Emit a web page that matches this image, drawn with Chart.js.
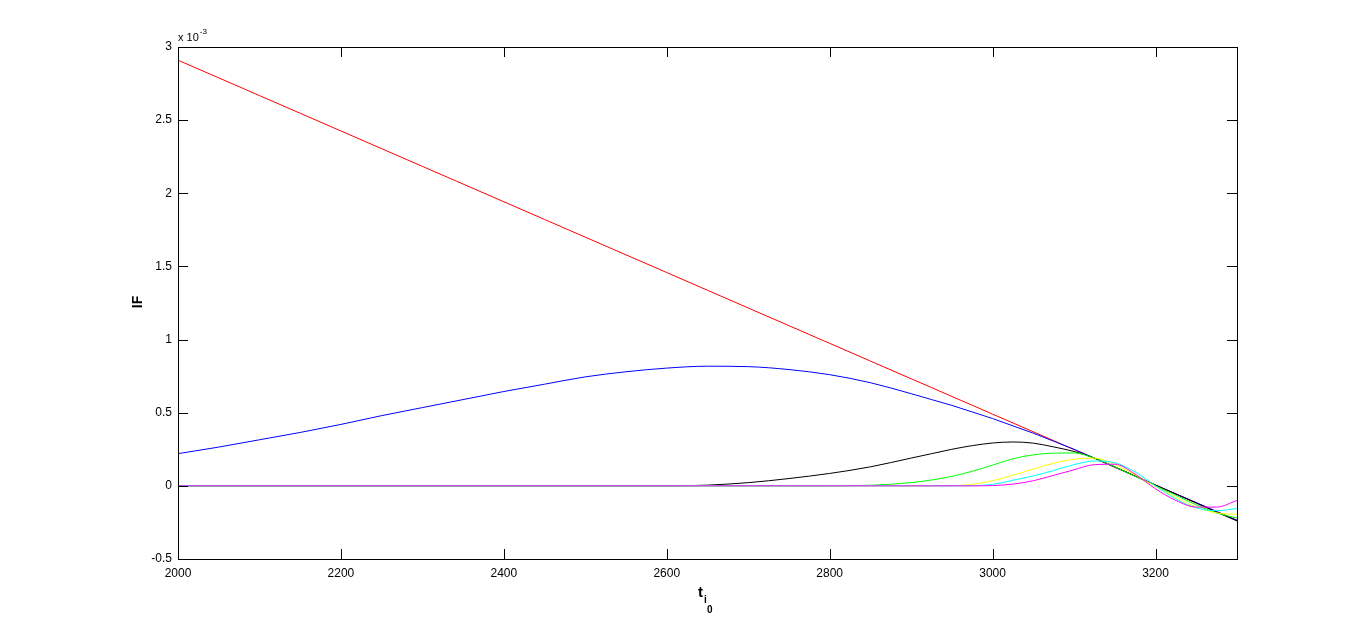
<!DOCTYPE html>
<html>
<head>
<meta charset="utf-8">
<script src="https://cdn.jsdelivr.net/npm/chart.js@4/dist/chart.umd.min.js"></script>
<style>
  html, body { margin: 0; padding: 0; background: #fff; }
  #wrap { width: 1366px; height: 628px; position: relative; }
</style>
</head>
<body>
<div id="wrap"><canvas id="ifChart" width="1366" height="628"></canvas></div>
<script>
// t_i0 sample points (step 50, then 25 near the oscillation)
const tValues = [2000, 2050, 2100, 2150, 2200, 2250, 2300, 2350, 2400, 2450,
    2500, 2550, 2600, 2650, 2700, 2750, 2800, 2850, 2900,
    2925, 2950, 2975, 3000, 3025, 3050, 3075, 3100, 3125, 3150, 3175,
    3200, 3225, 3250, 3275, 3300];

// IF values, in units of 1e-3
const redIF = [2.91, 2.789, 2.668, 2.547, 2.426, 2.305, 2.184, 2.063, 1.942, 1.821,
    1.70, 1.579, 1.458, 1.337, 1.216, 1.095, 0.974, 0.853, 0.732,
    0.672, 0.611, 0.551, 0.49, 0.43, 0.369, 0.309, 0.248, 0.188, 0.127, 0.067,
    0.006, -0.055, -0.115, -0.176, -0.236];
const blueIF = [0.22, 0.265, 0.315, 0.365, 0.42, 0.48, 0.535, 0.59, 0.645, 0.695,
    0.745, 0.78, 0.805, 0.818, 0.815, 0.795, 0.76, 0.705, 0.63,
    0.59, 0.55, 0.505, 0.46, 0.41, 0.36, 0.305, 0.25, 0.19, 0.128, 0.066,
    0.005, -0.055, -0.115, -0.175, -0.235];
const blackIF = [0, 0, 0, 0, 0, 0, 0, 0, 0, 0,
    0, 0, 0, 0.005, 0.022, 0.05, 0.085, 0.13, 0.19,
    0.22, 0.25, 0.275, 0.293, 0.30, 0.292, 0.266, 0.235, 0.19, 0.13, 0.068,
    0.005, -0.056, -0.118, -0.18, -0.24];
const greenIF = [0, 0, 0, 0, 0, 0, 0, 0, 0, 0,
    0, 0, 0, 0, 0, 0, 0, 0.004, 0.022,
    0.04, 0.065, 0.1, 0.142, 0.185, 0.212, 0.224, 0.225, 0.19, 0.13, 0.065,
    0.0, -0.065, -0.13, -0.185, -0.22];
const yellowIF = [0, 0, 0, 0, 0, 0, 0, 0, 0, 0,
    0, 0, 0, 0, 0, 0, 0, 0, 0,
    0, 0.001, 0.01, 0.035, 0.073, 0.115, 0.155, 0.182, 0.19, 0.145, 0.075,
    -0.005, -0.08, -0.145, -0.185, -0.195];
const cyanIF = [0, 0, 0, 0, 0, 0, 0, 0, 0, 0,
    0, 0, 0, 0, 0, 0, 0, 0, 0,
    0, 0, 0.001, 0.01, 0.038, 0.068, 0.105, 0.145, 0.17, 0.158, 0.095,
    0.0, -0.09, -0.15, -0.17, -0.155];
const magentaIF = [0, 0, 0, 0, 0, 0, 0, 0, 0, 0,
    0, 0, 0, 0, 0, 0, 0, 0, 0,
    0, 0, 0, 0.002, 0.012, 0.035, 0.072, 0.11, 0.145, 0.148, 0.08,
    -0.02, -0.10, -0.145, -0.145, -0.10];

const xTicks = [2000, 2200, 2400, 2600, 2800, 3000, 3200];
const yTicks = [-0.5, 0, 0.5, 1, 1.5, 2, 2.5, 3];

const FONT = 'Liberation Sans, Arial, sans-serif';

function series(label, values, color, order) {
    return {
        label: label,
        data: tValues.map((t, i) => ({ x: t, y: values[i] })),
        borderColor: color,
        backgroundColor: color,
        borderWidth: 1,
        pointRadius: 0,
        fill: false,
        cubicInterpolationMode: 'monotone',
        order: order
    };
}

// Box, inward ticks, axis titles and the exponent label (MATLAB look)
const matlabFrame = {
    id: 'matlabFrame',
    afterDraw(chart) {
        const ctx = chart.ctx;
        const a = chart.chartArea;
        const xs = chart.scales.x;
        const ys = chart.scales.y;
        ctx.save();
        ctx.strokeStyle = '#000';
        ctx.lineWidth = 1;
        ctx.strokeRect(Math.round(a.left) + 0.5, Math.round(a.top) + 0.5,
            Math.round(a.right - a.left), Math.round(a.bottom - a.top));
        ctx.beginPath();
        xTicks.forEach(v => {
            const px = Math.round(xs.getPixelForValue(v)) + 0.5;
            ctx.moveTo(px, a.bottom); ctx.lineTo(px, a.bottom - 10);
            ctx.moveTo(px, a.top); ctx.lineTo(px, a.top + 10);
        });
        yTicks.forEach(v => {
            const py = Math.round(ys.getPixelForValue(v)) + 0.5;
            ctx.moveTo(a.left, py); ctx.lineTo(a.left + 10, py);
            ctx.moveTo(a.right, py); ctx.lineTo(a.right - 10, py);
        });
        ctx.stroke();

        ctx.fillStyle = '#000';
        // exponent
        ctx.textBaseline = 'alphabetic';
        ctx.textAlign = 'left';
        ctx.font = '11px ' + FONT;
        ctx.fillText('x 10', a.left, a.top - 6);
        const w = ctx.measureText('x 10').width;
        ctx.font = '8px ' + FONT;
        ctx.fillText('-3', a.left + w + 1, a.top - 13);

        // y title
        ctx.save();
        ctx.translate(142, 302);
        ctx.rotate(-Math.PI / 2);
        ctx.textAlign = 'center';
        ctx.font = 'bold 14px ' + FONT;
        ctx.fillText('IF', 0, 0);
        ctx.restore();

        // x title t_i_0
        ctx.textAlign = 'left';
        ctx.font = 'bold 15px ' + FONT;
        ctx.fillText('t', 698, 597);
        ctx.font = 'bold 10px ' + FONT;
        ctx.fillText('i', 704, 603);
        ctx.fillText('0', 707, 613);
        ctx.restore();
    }
};

const ctx = document.getElementById('ifChart').getContext('2d');
new Chart(ctx, {
    type: 'line',
    data: {
        datasets: [
            series('red', redIF, '#ff0000', 6),
            series('blue', blueIF, '#0000ff', 5),
            series('black', blackIF, '#000000', 4),
            series('green', greenIF, '#00ff00', 3),
            series('yellow', yellowIF, '#ffff00', 2),
            series('cyan', cyanIF, '#00ffff', 1),
            series('magenta', magentaIF, '#ff00ff', 0)
        ]
    },
    options: {
        responsive: false,
        animation: false,
        layout: { padding: { top: 47, right: 129, left: 0, bottom: 0 } },
        plugins: {
            legend: { display: false },
            tooltip: { enabled: false }
        },
        scales: {
            x: {
                type: 'linear',
                min: 2000,
                max: 3300,
                afterFit: scale => { scale.height = 69; },
                afterBuildTicks: scale => { scale.ticks = xTicks.map(v => ({ value: v })); },
                grid: { display: false, drawTicks: false },
                border: { display: false },
                ticks: {
                    color: '#000',
                    padding: 7,
                    font: { family: FONT, size: 12 },
                    maxRotation: 0,
                    callback: v => String(v)
                }
            },
            y: {
                type: 'linear',
                min: -0.5,
                max: 3,
                afterFit: scale => { scale.width = 178; },
                afterBuildTicks: scale => { scale.ticks = yTicks.map(v => ({ value: v })); },
                grid: { display: false, drawTicks: false },
                border: { display: false },
                ticks: {
                    color: '#000',
                    padding: 6,
                    font: { family: FONT, size: 12 },
                    callback: v => String(v)
                }
            }
        }
    },
    plugins: [matlabFrame]
});
</script>
</body>
</html>
